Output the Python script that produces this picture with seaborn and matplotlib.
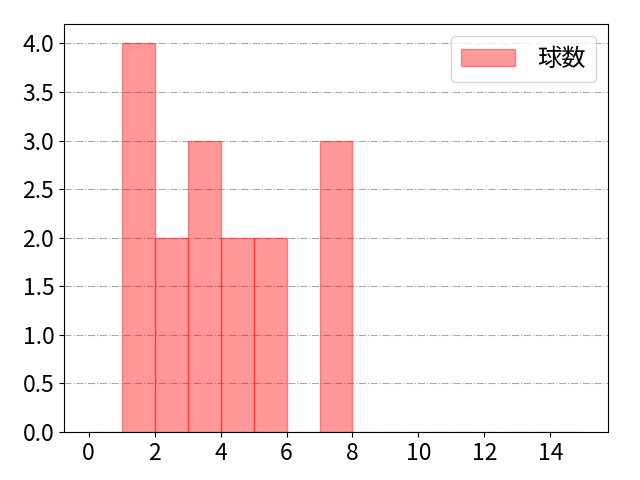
import numpy as np
import pandas as pd
import matplotlib
matplotlib.use("Agg")
import matplotlib.pyplot as plt
import seaborn as sns

pitch_values = [1, 1, 1, 1, 2, 2, 3, 3, 3, 4, 4, 5, 5, 7, 7, 7]
bin_edges = list(range(0, 16))
label = "球数"

plt.rcParams['font.family'] = ['Noto Sans CJK JP', 'DejaVu Sans']

fig, ax = plt.subplots(figsize=(6.4, 4.8), dpi=100)
df = pd.DataFrame({label: pitch_values})
sns.histplot(data=df, x=label, bins=bin_edges, color=(1, 0, 0, 0.4),
             edgecolor=(1, 0, 0, 0.4), linewidth=1, ax=ax, label=label)
for p in ax.patches:
    p.set_facecolor((1, 0, 0, 0.4))
    p.set_edgecolor((1, 0, 0, 0.4))
ax.set_xlabel("")
ax.set_ylabel("")
ax.grid(axis="y", linestyle="-.", color="#aaaaaa", linewidth=0.8)
ax.set_axisbelow(True)
ax.set_xticks(range(0, 15, 2))
ax.set_yticks(np.arange(0, 4.01, 0.5))
ax.tick_params(labelsize=16.5)
ax.legend(fontsize=17.5, handlelength=2.2, handletextpad=0.95, loc="upper right")
fig.subplots_adjust(left=0.1, right=0.95, top=0.95, bottom=0.1)
fig.savefig("out.png", dpi=100)
